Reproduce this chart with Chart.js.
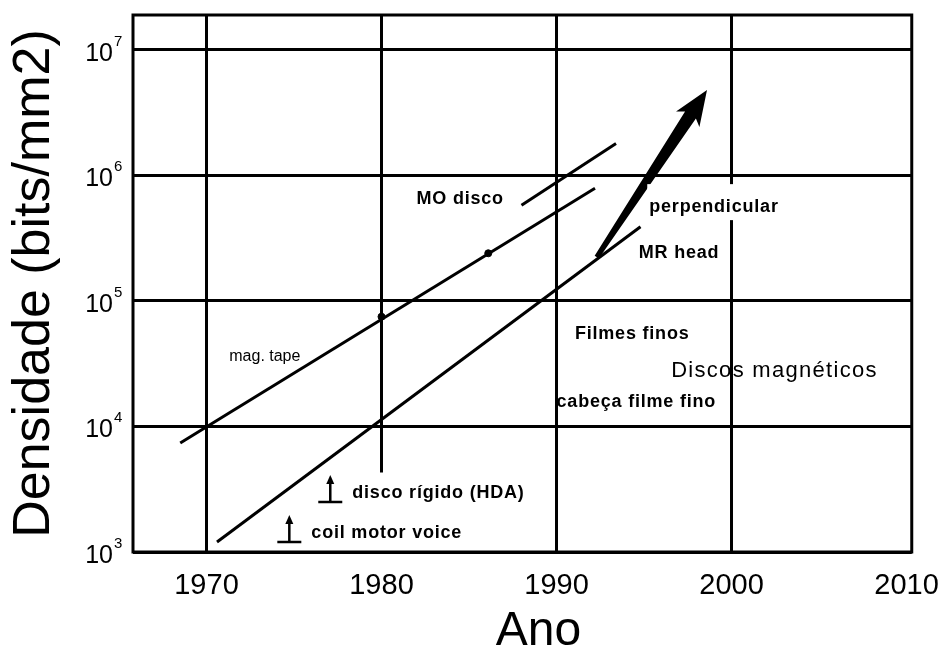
<!DOCTYPE html>
<html>
<head>
<meta charset="utf-8">
<script src="https://cdn.jsdelivr.net/npm/chart.js@4/dist/chart.umd.min.js"></script>
<style>
  html, body { margin: 0; padding: 0; background: #fff; }
  #wrap { width: 948px; height: 647px; }
</style>
</head>
<body>
<div id="wrap"><canvas id="c" width="948" height="647"></canvas></div>
<script>
// Axis ticks
const yearTicks = [1970, 1980, 1990, 2000, 2010];
const densityTicks = [1e3, 1e4, 1e5, 1e6, 1e7];

// Trend lines (year, bits/mm2)
const tapeYears = [1968.5, 1992.2];
const tapeDensity = [7400, 790000];
const tapeMarkYears = [1980, 1986.1];
const tapeMarkDensity = [75000, 240000];
const diskYears = [1970.6, 1994.8];
const diskDensity = [1200, 390000];
const moYears = [1988, 1993.4];
const moDensity = [580000, 1800000];
const perpYears = [1992.3, 1998.6];
const perpDensity = [224000, 4800000];

// The 1980 rule stops above the pin notes
const gridFloor = { 1980: 4300 };

// Notes anchored at (year, density): left edge, vertical middle
const noteText = ['mag. tape', 'MO disco', 'perpendicular', 'MR head', 'Filmes finos',
  'Discos magnéticos', 'cabeça filme fino', 'disco rígido (HDA)', 'coil motor voice'];
const noteYear = [1971.3, 1982.0, 1995.3, 1994.7, 1991.05, 1996.55, 1990.0, 1978.33, 1975.99];
const noteDensity = [37000, 660000, 570000, 245000, 55600, 28200, 16000, 3010, 1443];
const noteKind = ['small', 'bold', 'boldbg', 'bold', 'bold', 'plain', 'bold', 'pin', 'pin'];

const FONT = "'Liberation Sans', Arial, Helvetica, sans-serif";
const pairs = (xs, ys) => xs.map((v, i) => ({ x: v, y: ys[i] }));

function drawPin(ctx, cx, baseY, h, w) {
  ctx.beginPath();
  ctx.moveTo(cx - w / 2, baseY); ctx.lineTo(cx + w / 2, baseY);
  ctx.moveTo(cx, baseY); ctx.lineTo(cx, baseY - h + 6);
  ctx.stroke();
  ctx.beginPath();
  ctx.moveTo(cx, baseY - h); ctx.lineTo(cx - 4, baseY - h + 9); ctx.lineTo(cx + 4, baseY - h + 9);
  ctx.closePath(); ctx.fill();
}

const decor = {
  id: 'decor',
  beforeDatasetsDraw(chart) {
    const { ctx, chartArea: a, scales: { x, y } } = chart;
    ctx.save();
    ctx.strokeStyle = '#000';
    ctx.lineWidth = 3;
    yearTicks.forEach(t => {
      if (t > x.max - 0.5) return;
      const px = x.getPixelForValue(t);
      const yb = gridFloor[t] ? y.getPixelForValue(gridFloor[t]) : a.bottom;
      ctx.beginPath(); ctx.moveTo(px, a.top); ctx.lineTo(px, yb); ctx.stroke();
    });
    ctx.restore();
  },
  afterDatasetsDraw(chart) {
    const { ctx, chartArea: a, scales: { x, y } } = chart;
    ctx.save();
    ctx.fillStyle = '#000';
    ctx.strokeStyle = '#000';

    // perpendicular recording arrow, tapering toward its tail
    const p0 = { x: x.getPixelForValue(perpYears[0]), y: y.getPixelForValue(perpDensity[0]) };
    const p1 = { x: x.getPixelForValue(perpYears[1]), y: y.getPixelForValue(perpDensity[1]) };
    const len = Math.hypot(p1.x - p0.x, p1.y - p0.y);
    const dx = (p1.x - p0.x) / len, dy = (p1.y - p0.y) / len;
    const nx = -dy, ny = dx;
    const headLen = 30, headHalf = 14;
    const bx = p1.x - dx * headLen, by = p1.y - dy * headLen;
    ctx.beginPath();
    ctx.moveTo(p0.x + nx * 2.5, p0.y + ny * 2.5);
    ctx.lineTo(bx + nx * 6.5, by + ny * 6.5);
    ctx.lineTo(bx + nx * headHalf - dx * 5, by + ny * headHalf - dy * 5);
    ctx.lineTo(p1.x, p1.y);
    ctx.lineTo(bx - nx * headHalf - dx * 5, by - ny * headHalf - dy * 5);
    ctx.lineTo(bx - nx * 6.5, by - ny * 6.5);
    ctx.lineTo(p0.x - nx * 2.5, p0.y - ny * 2.5);
    ctx.closePath();
    ctx.fill();

    // notes
    ctx.textBaseline = 'middle';
    ctx.textAlign = 'left';
    noteText.forEach((txt, i) => {
      const lx = x.getPixelForValue(noteYear[i]);
      const ly = y.getPixelForValue(noteDensity[i]);
      const kind = noteKind[i];
      if (kind === 'small') {
        ctx.font = '16px ' + FONT; ctx.letterSpacing = '0px';
      } else if (kind === 'plain') {
        ctx.font = '22px ' + FONT; ctx.letterSpacing = '1.3px';
      } else {
        ctx.font = 'bold 18px ' + FONT; ctx.letterSpacing = '0.8px';
      }
      const w = ctx.measureText(txt).width;
      if (kind === 'boldbg' || kind === 'pin') {
        ctx.fillStyle = '#fff';
        ctx.fillRect(lx - 2, ly - (kind === 'boldbg' ? 22 : 14), w + 4, kind === 'boldbg' ? 36 : 28);
        ctx.fillStyle = '#000';
      }
      ctx.fillText(txt, lx, ly + 1);
      if (kind === 'pin') {
        ctx.lineWidth = 2.5;
        drawPin(ctx, lx - 22, ly + 10, 27, 24);
      }
    });
    ctx.letterSpacing = '0px';

    // frame
    ctx.lineWidth = 3;
    ctx.strokeRect(a.left, a.top, a.right - a.left, a.bottom - a.top);

    // y tick labels as powers of ten
    ctx.textBaseline = 'alphabetic';
    densityTicks.forEach(v => {
      const py = y.getPixelForValue(v);
      const exp = Math.round(Math.log10(v));
      ctx.font = '25px ' + FONT;
      ctx.textAlign = 'right';
      ctx.fillText('10', a.left - 20, py + 11);
      ctx.font = '15px ' + FONT;
      ctx.textAlign = 'left';
      ctx.fillText(String(exp), a.left - 19, py - 4);
    });

    // x axis title
    ctx.font = '48px ' + FONT;
    ctx.textAlign = 'center';
    ctx.textBaseline = 'alphabetic';
    ctx.fillText('Ano', (a.left + a.right) / 2 + 16, 645);
    ctx.restore();
  }
};

new Chart(document.getElementById('c'), {
  type: 'line',
  data: {
    datasets: [
      { data: pairs(tapeYears, tapeDensity), borderColor: '#000', borderWidth: 3, pointRadius: 0 },
      { data: pairs(diskYears, diskDensity), borderColor: '#000', borderWidth: 3, pointRadius: 0 },
      { data: pairs(moYears, moDensity), borderColor: '#000', borderWidth: 3, pointRadius: 0 },
      { data: pairs(tapeMarkYears, tapeMarkDensity), showLine: false, pointRadius: 3.5,
        pointBackgroundColor: '#000', pointBorderColor: '#000' }
    ]
  },
  options: {
    responsive: false,
    animation: false,
    devicePixelRatio: 1,
    layout: { padding: { left: 0, right: 35, top: 15, bottom: 0 } },
    plugins: { legend: { display: false }, tooltip: { enabled: false } },
    scales: {
      x: {
        type: 'linear',
        min: 1965.8,
        max: 2010.3,
        afterBuildTicks: s => { s.ticks = yearTicks.map(v => ({ value: v })); },
        afterFit: s => { s.height = 95; },
        grid: { display: false },
        border: { display: false },
        ticks: {
          padding: 9,
          color: '#000',
          font: { family: FONT, size: 29 },
          maxRotation: 0,
          autoSkip: false,
          callback: v => String(v)
        }
      },
      y: {
        type: 'logarithmic',
        min: 1e3,
        max: 1.9e7,
        afterBuildTicks: s => { s.ticks = densityTicks.map(v => ({ value: v })); },
        afterFit: s => { s.width = 133; },
        grid: { color: '#000', lineWidth: 3, drawTicks: false },
        border: { display: false },
        ticks: { display: false },
        title: {
          display: true,
          text: 'Densidade (bits/mm2)',
          color: '#000',
          font: { family: FONT, size: 52 },
          padding: { top: 3, bottom: 0 }
        }
      }
    }
  },
  plugins: [decor]
});
</script>
</body>
</html>
